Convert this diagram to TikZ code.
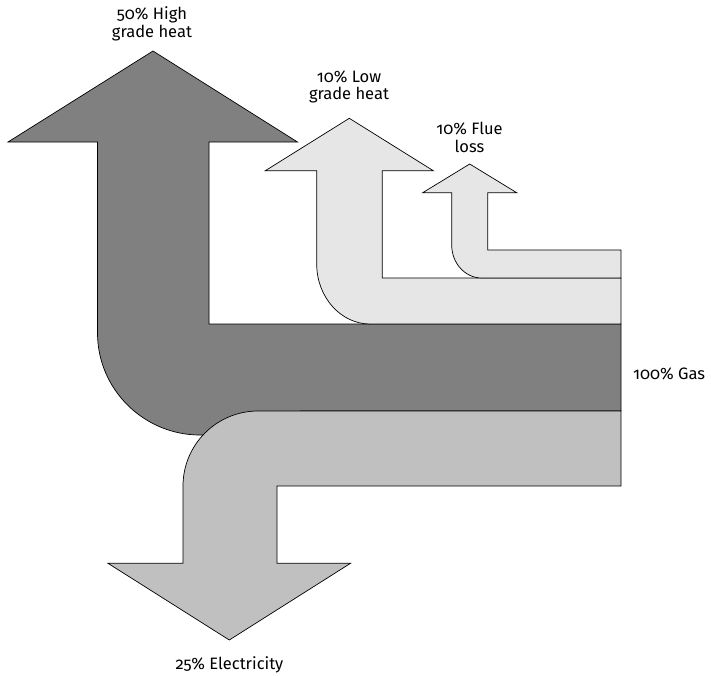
\documentclass[tikz,border=0pt]{standalone}
\usepackage{fontspec}
\setmainfont{Fira Sans}[Numbers=OldStyle]
\begin{document}
\begin{tikzpicture}[x=1pt,y=-1pt,
  flow/.style={draw=black,line width=0.7pt,line join=miter},
  lbl/.style={align=center,inner sep=0pt,font=\fontsize{16.5}{17.5}\selectfont}]
\useasboundingbox (0,0) rectangle (711,675);
\definecolor{darkg}{HTML}{808080}
\definecolor{elecg}{HTML}{C0C0C0}
\definecolor{lightg}{HTML}{E6E6E6}
% 50% high grade heat (dark)
\filldraw[flow,fill=darkg] (153,51) -- (297.5,142) -- (209,142) -- (209,324) -- (621,324)
  -- (621,411) -- (300,411) -- (300,435) -- (200,435)
  .. controls (143.7,435) and (97.5,389.3) .. (97.5,333)
  -- (97.5,142) -- (8,142) -- cycle;
% 10% low grade heat
\filldraw[flow,fill=lightg] (621,278) -- (382.3,278) -- (382.3,170.7) -- (433.3,170.7)
  -- (349.3,118.3) -- (265.3,170.7) -- (316.7,170.7) -- (316.7,264)
  .. controls (316.7,297) and (340.7,324) .. (370,324) -- (621,324) -- cycle;
% 10% flue loss
\filldraw[flow,fill=lightg] (621,250) -- (487.7,250) -- (487.7,192.7) -- (516.7,192.7)
  -- (469.7,164) -- (422.7,192.7) -- (451.7,192.7) -- (451.7,245)
  .. controls (451.7,263.2) and (465.1,278) .. (481.7,278) -- (621,278) -- cycle;
% 25% electricity
\filldraw[flow,fill=elecg] (621,411) -- (258,411)
  .. controls (216.6,411) and (183,444.6) .. (183,486)
  -- (183,563.3) -- (108,563.3) -- (229.3,640) -- (350.5,563.3) -- (277,563.3)
  -- (277,486) -- (621,486) -- cycle;
% labels
\node[lbl] (high) at (152,24) {50\% High\\grade heat};
\node[lbl] (low) at (349,87) {10\% Low\\grade heat};
\node[lbl] (flue) at (469.5,137.5) {10\% Flue\\loss};
\node[lbl,anchor=west] (gas) at (633,374) {100\% Gas};
\node[lbl] (elec) at (229.5,665) {25\% Electricity};
\end{tikzpicture}
\end{document}
